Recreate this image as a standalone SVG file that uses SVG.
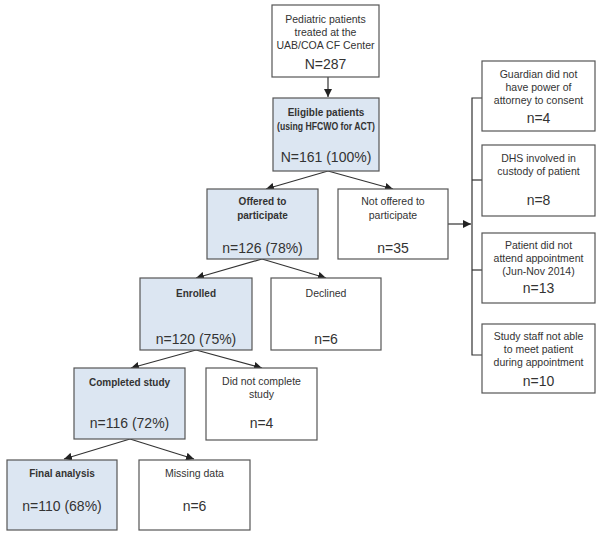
<svg xmlns="http://www.w3.org/2000/svg" width="600" height="536" viewBox="0 0 600 536">
<defs>
<marker id="ah" viewBox="0 0 10 10" refX="10" refY="5" markerWidth="8" markerHeight="8" markerUnits="userSpaceOnUse" orient="auto">
<path d="M0,0 L10,5 L0,10 z" fill="#222"/>
</marker>
<style>
.b{fill:#fff;stroke:#555;stroke-width:1.2}
.h{fill:#dce6f2;stroke:#555;stroke-width:1.2}
text{font-family:"Liberation Sans",Arial,sans-serif;fill:#333;text-anchor:middle}
.s{font-size:10.5px}
.sb{font-size:10px;font-weight:bold}
.n{font-size:14px}
.c{fill:none;stroke:#333;stroke-width:1.2}
</style>
</defs>
<rect width="600" height="536" fill="#fff"/>
<g id="connectors">
<line class="c" x1="328" y1="77" x2="328" y2="97" marker-end="url(#ah)"/>
<line class="c" x1="328" y1="171" x2="266" y2="189" marker-end="url(#ah)"/>
<line class="c" x1="328" y1="171" x2="393" y2="189" marker-end="url(#ah)"/>
<line class="c" x1="262" y1="259" x2="196" y2="278" marker-end="url(#ah)"/>
<line class="c" x1="262" y1="259" x2="326" y2="278" marker-end="url(#ah)"/>
<line class="c" x1="196" y1="350" x2="131" y2="368" marker-end="url(#ah)"/>
<line class="c" x1="196" y1="350" x2="262" y2="368" marker-end="url(#ah)"/>
<line class="c" x1="130" y1="439" x2="64" y2="459" marker-end="url(#ah)"/>
<line class="c" x1="130" y1="439" x2="194" y2="459" marker-end="url(#ah)"/>
<line class="c" x1="448" y1="224" x2="471" y2="224" marker-end="url(#ah)"/>
<polyline class="c" points="482,98 472,98 472,355 482,355"/>
<line class="c" x1="472" y1="180" x2="482" y2="180"/>
<line class="c" x1="472" y1="270" x2="482" y2="270"/>
</g>
<g id="n_pediatric">
<rect class="b" x="272" y="5" width="107" height="72"/>
<text class="s" x="325.5" y="23">Pediatric patients</text>
<text class="s" x="325.5" y="36">treated at the</text>
<text class="s" x="325.5" y="49">UAB/COA CF Center</text>
<text class="n" x="325.5" y="69">N=287</text>
</g>
<g id="n_eligible">
<rect class="h" x="273" y="98" width="106" height="73"/>
<text class="sb" x="326" y="116">Eligible patients</text>
<text class="sb" x="326" y="130" textLength="98" lengthAdjust="spacingAndGlyphs">(using HFCWO for ACT)</text>
<text class="n" x="326" y="162">N=161 (100%)</text>
</g>
<g id="n_offered">
<rect class="h" x="207" y="189" width="111" height="70"/>
<text class="sb" x="262.5" y="205">Offered to</text>
<text class="sb" x="262.5" y="219">participate</text>
<text class="n" x="262.5" y="253">n=126 (78%)</text>
</g>
<g id="n_notoffered">
<rect class="b" x="338" y="189" width="110" height="70"/>
<text class="s" x="393" y="205">Not offered to</text>
<text class="s" x="393" y="219">participate</text>
<text class="n" x="393" y="253">n=35</text>
</g>
<g id="n_guardian">
<rect class="b" x="482" y="61" width="113" height="70"/>
<text class="s" x="538.5" y="78">Guardian did not</text>
<text class="s" x="538.5" y="91">have power of</text>
<text class="s" x="538.5" y="104">attorney to  consent</text>
<text class="n" x="538.5" y="123">n=4</text>
</g>
<g id="n_dhs">
<rect class="b" x="482" y="145" width="113" height="71"/>
<text class="s" x="538.5" y="162">DHS involved in</text>
<text class="s" x="538.5" y="175">custody of patient</text>
<text class="n" x="538.5" y="205">n=8</text>
</g>
<g id="n_attend">
<rect class="b" x="482" y="233" width="113" height="70"/>
<text class="s" x="538.5" y="249">Patient did not</text>
<text class="s" x="538.5" y="262">attend appointment</text>
<text class="s" x="538.5" y="275">(Jun-Nov 2014)</text>
<text class="n" x="538.5" y="293">n=13</text>
</g>
<g id="n_staff">
<rect class="b" x="482" y="324" width="113" height="69"/>
<text class="s" x="538.5" y="340">Study staff not able</text>
<text class="s" x="538.5" y="353">to meet patient</text>
<text class="s" x="538.5" y="366">during appointment</text>
<text class="n" x="538.5" y="386">n=10</text>
</g>
<g id="n_enrolled">
<rect class="h" x="140" y="278" width="112" height="72"/>
<text class="sb" x="196" y="297">Enrolled</text>
<text class="n" x="196" y="344">n=120 (75%)</text>
</g>
<g id="n_declined">
<rect class="b" x="271" y="278" width="110" height="72"/>
<text class="s" x="326" y="297">Declined</text>
<text class="n" x="326" y="344">n=6</text>
</g>
<g id="n_completed">
<rect class="h" x="74" y="368" width="111" height="71"/>
<text class="sb" x="129.5" y="386">Completed study</text>
<text class="n" x="129.5" y="428">n=116 (72%)</text>
</g>
<g id="n_didnot">
<rect class="b" x="206" y="368" width="111" height="72"/>
<text class="s" x="261.5" y="385">Did not complete</text>
<text class="s" x="261.5" y="398">study</text>
<text class="n" x="261.5" y="428">n=4</text>
</g>
<g id="n_final">
<rect class="h" x="7" y="460" width="110" height="70"/>
<text class="sb" x="62" y="477">Final analysis</text>
<text class="n" x="62" y="511">n=110 (68%)</text>
</g>
<g id="n_missing">
<rect class="b" x="139" y="460" width="111" height="70"/>
<text class="s" x="194.5" y="477">Missing data</text>
<text class="n" x="194.5" y="511">n=6</text>
</g>
</svg>
